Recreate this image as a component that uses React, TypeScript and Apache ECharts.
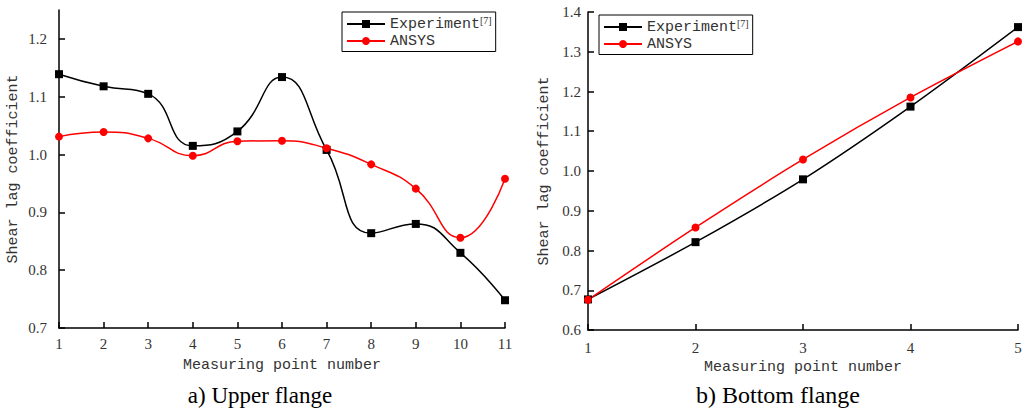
import React, { useEffect, useRef } from "react";
import * as echarts from "echarts";

const xLeft = [1, 2, 3, 4, 5, 6, 7, 8, 9, 10, 11];
const expLeft = [1.139, 1.118, 1.105, 1.015, 1.04, 1.134, 1.008, 0.864, 0.88, 0.83, 0.748];
const ansysLeft = [1.031, 1.039, 1.028, 0.998, 1.023, 1.024, 1.011, 0.983, 0.941, 0.856, 0.958];
const yTicksLeft = [0.7, 0.8, 0.9, 1.0, 1.1, 1.2];

const xRight = [1, 2, 3, 4, 5];
const expRight = [0.677, 0.821, 0.979, 1.162, 1.362];
const ansysRight = [0.676, 0.858, 1.029, 1.185, 1.326];
const yTicksRight = [0.6, 0.7, 0.8, 0.9, 1.0, 1.1, 1.2, 1.3, 1.4];

const captions = ["a) Upper flange", "b) Bottom flange"];
const xTitle = "Measuring point number";
const yTitle = "Shear lag coefficient";

const MONO = "'Liberation Mono', 'DejaVu Sans Mono', monospace";
const SERIF = "'Liberation Serif', 'DejaVu Serif', serif";

function pairs(xs: number[], ys: number[]) {
  return xs.map((x, i) => [x, ys[i]]);
}

export default function App() {
  const ref = useRef<HTMLDivElement>(null);
  useEffect(() => {
    if (!ref.current) return;
    const chart = echarts.init(ref.current, null, { renderer: "svg" });
    const axisLine = { show: true, lineStyle: { color: "#000", width: 1.5 } };
    const axisTick = (vals: number[]) => ({
      show: true,
      inside: true,
      length: 6,
      lineStyle: { color: "#000", width: 1.5 },
      customValues: vals,
    });
    const tickLabel = (vals: number[], margin: number, dec: number) => ({
      show: true,
      color: "#333",
      fontFamily: SERIF,
      fontSize: 15,
      margin,
      customValues: vals,
      formatter: (v: number) => v.toFixed(dec),
    });
    const nameStyle = { color: "#333", fontFamily: MONO, fontSize: 15 };

    const lineSeries = (name: string, idx: number, data: number[][], color: string, symbol: string, smooth: number) => ({
      name,
      type: "line",
      xAxisIndex: idx,
      yAxisIndex: idx,
      data,
      smooth,
      symbol,
      symbolSize: 8,
      itemStyle: { color },
      lineStyle: { color, width: 1.5 },
      clip: true,
    });

    const legendCommon = {
      orient: "vertical",
      data: ["Experiment", "ANSYS"],
      borderColor: "#000",
      borderWidth: 1,
      borderRadius: 0,
      padding: [3, 4, 3, 4],
      itemGap: 2,
      itemWidth: 38,
      itemHeight: 10,
      selectedMode: false,
      formatter: (n: string) => (n === "Experiment" ? "{a|Experiment}{s|[7]}" : "{a|ANSYS}"),
      textStyle: {
        color: "#333",
        rich: {
          a: { fontFamily: MONO, fontSize: 15, lineHeight: 18, color: "#333" },
          s: { fontFamily: SERIF, fontSize: 10, verticalAlign: "top", lineHeight: 10, color: "#333" },
        },
      },
    };

    chart.setOption({
      animation: false,
      backgroundColor: "#fff",
      grid: [
        { left: 59, top: 10, width: 446, height: 318 },
        { left: 588, top: 12, width: 430, height: 318 },
      ],
      xAxis: [
        {
          type: "value", gridIndex: 0, min: 1, max: 11, interval: 1,
          axisLine, axisTick: axisTick(xLeft), axisLabel: tickLabel(xLeft, 8, 0),
          splitLine: { show: false },
          name: xTitle, nameLocation: "middle", nameGap: 30, nameTextStyle: nameStyle,
        },
        {
          type: "value", gridIndex: 1, min: 1, max: 5, interval: 1,
          axisLine, axisTick: axisTick(xRight), axisLabel: tickLabel(xRight, 10, 0),
          splitLine: { show: false },
          name: xTitle, nameLocation: "middle", nameGap: 28, nameTextStyle: nameStyle,
        },
      ],
      yAxis: [
        {
          type: "value", gridIndex: 0, min: 0.7, max: 1.25, interval: 0.1,
          axisLine, axisTick: axisTick(yTicksLeft), axisLabel: tickLabel(yTicksLeft, 12, 1),
          splitLine: { show: false },
          name: yTitle, nameLocation: "middle", nameGap: 38, nameTextStyle: nameStyle,
        },
        {
          type: "value", gridIndex: 1, min: 0.6, max: 1.4, interval: 0.1,
          axisLine, axisTick: axisTick(yTicksRight), axisLabel: tickLabel(yTicksRight, 7, 1),
          splitLine: { show: false },
          name: yTitle, nameLocation: "middle", nameGap: 36, nameTextStyle: nameStyle,
        },
      ],
      legend: [
        { ...legendCommon, left: 342, top: 12 },
        { ...legendCommon, left: 599, top: 15 },
      ],
      series: [
        lineSeries("Experiment", 0, pairs(xLeft, expLeft), "#000", "rect", 0.5),
        lineSeries("ANSYS", 0, pairs(xLeft, ansysLeft), "#ff0000", "circle", 0.5),
        lineSeries("Experiment", 1, pairs(xRight, expRight), "#000", "rect", 0.3),
        lineSeries("ANSYS", 1, pairs(xRight, ansysRight), "#ff0000", "circle", 0.3),
      ],
      graphic: [
        {
          type: "text", x: 260, y: 395,
          style: { text: captions[0], fill: "#000", font: `23px ${SERIF}`, textAlign: "center", textVerticalAlign: "middle" },
        },
        {
          type: "text", x: 778, y: 395,
          style: { text: captions[1], fill: "#000", font: `24px ${SERIF}`, textAlign: "center", textVerticalAlign: "middle" },
        },
      ],
    });
    return () => chart.dispose();
  }, []);
  return (
    <div
      ref={ref}
      style={{ position: "fixed", left: 0, top: 0, width: 1031, height: 409 }}
    />
  );
}
